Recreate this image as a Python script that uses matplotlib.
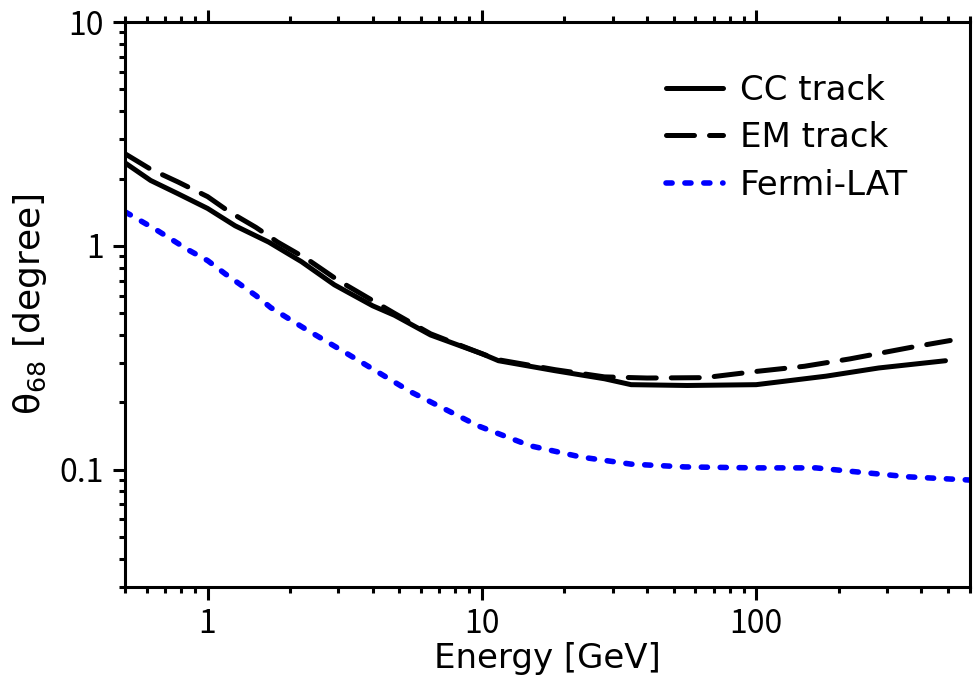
import matplotlib
matplotlib.use('Agg')
import matplotlib.pyplot as plt
from matplotlib.ticker import LogLocator, NullFormatter, FixedLocator, FixedFormatter

plt.rcParams['font.family'] = ['DejaVu Sans']
plt.rcParams['mathtext.fontset'] = 'dejavusans'

# CC track (solid)
cc_energy = [0.5, 0.62, 0.78, 1.0, 1.26, 1.67, 2.2, 2.9, 4.0, 4.8, 6.5, 10, 11.5, 18.5, 28, 35, 56, 100, 180, 280, 490]
cc_theta = [2.35, 1.96, 1.71, 1.47, 1.23, 1.04, 0.85, 0.67, 0.54, 0.49, 0.40, 0.33, 0.307, 0.277, 0.255, 0.24, 0.238, 0.24, 0.262, 0.285, 0.307]

# EM track (dashed)
em_energy = [0.5, 0.62, 0.78, 1.0, 1.2, 1.5, 1.8, 2.3, 3.0, 4.8, 6.5, 10, 11.5, 18.5, 28, 40, 65, 100, 150, 220, 370, 510]
em_theta = [2.58, 2.2, 1.93, 1.66, 1.42, 1.21, 1.04, 0.875, 0.70, 0.50, 0.405, 0.33, 0.31, 0.28, 0.26, 0.257, 0.258, 0.275, 0.29, 0.313, 0.353, 0.378]

# Fermi-LAT (dotted)
lat_energy = [0.5, 0.65, 0.85, 1.0, 1.16, 1.5, 1.7, 2.27, 3.1, 4.2, 5.5, 9.7, 15, 23, 35, 55, 100, 165, 230, 360, 600]
lat_theta = [1.42, 1.18, 0.96, 0.86, 0.75, 0.60, 0.53, 0.426, 0.34, 0.272, 0.223, 0.157, 0.128, 0.114, 0.106, 0.103, 0.102, 0.102, 0.098, 0.093, 0.09]

fig = plt.figure(figsize=(9.73, 6.88), dpi=100)
ax = fig.add_axes([0.1285, 0.147, 0.868, 0.821])

ax.plot(cc_energy, cc_theta, color='black', lw=3.6, solid_capstyle='round', label='CC track')
ax.plot(em_energy, em_theta, color='black', lw=3.6, dashes=(5.6, 3.0), dash_capstyle='round', label='EM track')
ax.plot(lat_energy, lat_theta, color='#0000ff', lw=4.0, dashes=(1.1, 2.3), dash_capstyle='round', label='Fermi-LAT')

ax.set_xscale('log')
ax.set_yscale('log')
ax.set_xlim(0.5, 600)
ax.set_ylim(0.03, 10)

ax.xaxis.set_major_locator(FixedLocator([1, 10, 100]))
ax.xaxis.set_major_formatter(FixedFormatter(['1', '10', '100']))
ax.xaxis.set_minor_locator(LogLocator(base=10, subs=range(2, 10), numticks=20))
ax.xaxis.set_minor_formatter(NullFormatter())
ax.yaxis.set_major_locator(FixedLocator([0.1, 1, 10]))
ax.yaxis.set_major_formatter(FixedFormatter(['0.1', '1', '10']))
ax.yaxis.set_minor_locator(LogLocator(base=10, subs=range(2, 10), numticks=20))
ax.yaxis.set_minor_formatter(NullFormatter())

for s in ax.spines.values():
    s.set_linewidth(2.2)
ax.tick_params(which='both', direction='out', width=2.2, top=True, right=False, pad=6)
ax.tick_params(which='major', length=9)
ax.tick_params(which='minor', length=4.5)
for lbl in ax.get_xticklabels() + ax.get_yticklabels():
    lbl.set_family(['Noto Sans CJK JP', 'DejaVu Sans'])
    lbl.set_fontsize(23)

ax.set_xlabel('Energy [GeV]', fontsize=24.5, labelpad=2)
ax.set_ylabel(r'$\mathrm{\theta}_{68}$ [degree]', fontsize=26, labelpad=8)

ax.legend(loc='upper right', bbox_to_anchor=(0.955, 0.95), frameon=False, fontsize=24.5,
          handlelength=1.65, handletextpad=0.5, labelspacing=0.42, borderpad=0.2)

fig.savefig('out.png', dpi=100)
